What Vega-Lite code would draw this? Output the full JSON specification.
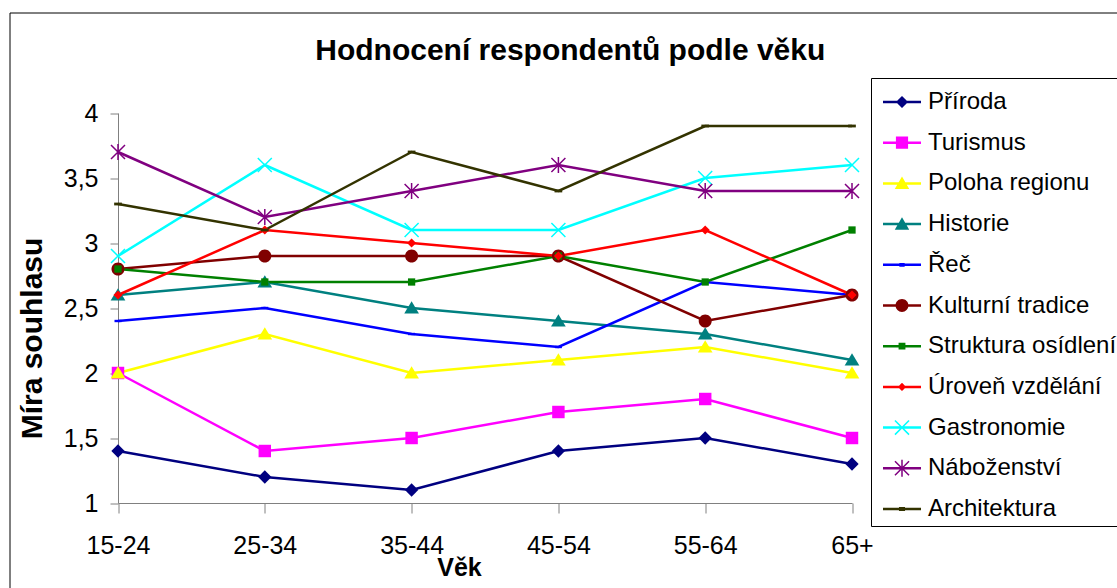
{
  "$schema": "https://vega.github.io/schema/vega-lite/v6.json",
  "width": 1107.5,
  "height": 575.5,
  "autosize": {"type": "none"},
  "padding": {"left": 9.5, "top": 12.5, "right": 0, "bottom": 0},
  "background": "white",
  "config": {
    "font": "Liberation Sans",
    "view": {"stroke": "black", "strokeWidth": 1}
  },
  "title": {
    "text": "Hodnocení respondentů podle věku",
    "font": "Liberation Sans",
    "fontSize": 30,
    "fontWeight": "bold",
    "color": "black",
    "anchor": "middle",
    "frame": "group",
    "baseline": "alphabetic",
    "offset": -77,
    "dx": 7
  },
  "datasets": {
    "ages": [
      {"vek": "15-24"}, {"vek": "25-34"}, {"vek": "35-44"},
      {"vek": "45-54"}, {"vek": "55-64"}, {"vek": "65+"}
    ],
    "main": [
      {"vek": "15-24", "oblast": "Příroda", "hodnota": 1.4},
      {"vek": "25-34", "oblast": "Příroda", "hodnota": 1.2},
      {"vek": "35-44", "oblast": "Příroda", "hodnota": 1.1},
      {"vek": "45-54", "oblast": "Příroda", "hodnota": 1.4},
      {"vek": "55-64", "oblast": "Příroda", "hodnota": 1.5},
      {"vek": "65+", "oblast": "Příroda", "hodnota": 1.3},
      {"vek": "15-24", "oblast": "Turismus", "hodnota": 2.0},
      {"vek": "25-34", "oblast": "Turismus", "hodnota": 1.4},
      {"vek": "35-44", "oblast": "Turismus", "hodnota": 1.5},
      {"vek": "45-54", "oblast": "Turismus", "hodnota": 1.7},
      {"vek": "55-64", "oblast": "Turismus", "hodnota": 1.8},
      {"vek": "65+", "oblast": "Turismus", "hodnota": 1.5},
      {"vek": "15-24", "oblast": "Poloha regionu", "hodnota": 2.0},
      {"vek": "25-34", "oblast": "Poloha regionu", "hodnota": 2.3},
      {"vek": "35-44", "oblast": "Poloha regionu", "hodnota": 2.0},
      {"vek": "45-54", "oblast": "Poloha regionu", "hodnota": 2.1},
      {"vek": "55-64", "oblast": "Poloha regionu", "hodnota": 2.2},
      {"vek": "65+", "oblast": "Poloha regionu", "hodnota": 2.0},
      {"vek": "15-24", "oblast": "Historie", "hodnota": 2.6},
      {"vek": "25-34", "oblast": "Historie", "hodnota": 2.7},
      {"vek": "35-44", "oblast": "Historie", "hodnota": 2.5},
      {"vek": "45-54", "oblast": "Historie", "hodnota": 2.4},
      {"vek": "55-64", "oblast": "Historie", "hodnota": 2.3},
      {"vek": "65+", "oblast": "Historie", "hodnota": 2.1},
      {"vek": "15-24", "oblast": "Řeč", "hodnota": 2.4},
      {"vek": "25-34", "oblast": "Řeč", "hodnota": 2.5},
      {"vek": "35-44", "oblast": "Řeč", "hodnota": 2.3},
      {"vek": "45-54", "oblast": "Řeč", "hodnota": 2.2},
      {"vek": "55-64", "oblast": "Řeč", "hodnota": 2.7},
      {"vek": "65+", "oblast": "Řeč", "hodnota": 2.6},
      {"vek": "15-24", "oblast": "Kulturní tradice", "hodnota": 2.8},
      {"vek": "25-34", "oblast": "Kulturní tradice", "hodnota": 2.9},
      {"vek": "35-44", "oblast": "Kulturní tradice", "hodnota": 2.9},
      {"vek": "45-54", "oblast": "Kulturní tradice", "hodnota": 2.9},
      {"vek": "55-64", "oblast": "Kulturní tradice", "hodnota": 2.4},
      {"vek": "65+", "oblast": "Kulturní tradice", "hodnota": 2.6},
      {"vek": "15-24", "oblast": "Struktura osídlení", "hodnota": 2.8},
      {"vek": "25-34", "oblast": "Struktura osídlení", "hodnota": 2.7},
      {"vek": "35-44", "oblast": "Struktura osídlení", "hodnota": 2.7},
      {"vek": "45-54", "oblast": "Struktura osídlení", "hodnota": 2.9},
      {"vek": "55-64", "oblast": "Struktura osídlení", "hodnota": 2.7},
      {"vek": "65+", "oblast": "Struktura osídlení", "hodnota": 3.1},
      {"vek": "15-24", "oblast": "Úroveň vzdělání", "hodnota": 2.6},
      {"vek": "25-34", "oblast": "Úroveň vzdělání", "hodnota": 3.1},
      {"vek": "35-44", "oblast": "Úroveň vzdělání", "hodnota": 3.0},
      {"vek": "45-54", "oblast": "Úroveň vzdělání", "hodnota": 2.9},
      {"vek": "55-64", "oblast": "Úroveň vzdělání", "hodnota": 3.1},
      {"vek": "65+", "oblast": "Úroveň vzdělání", "hodnota": 2.6},
      {"vek": "15-24", "oblast": "Gastronomie", "hodnota": 2.9},
      {"vek": "25-34", "oblast": "Gastronomie", "hodnota": 3.6},
      {"vek": "35-44", "oblast": "Gastronomie", "hodnota": 3.1},
      {"vek": "45-54", "oblast": "Gastronomie", "hodnota": 3.1},
      {"vek": "55-64", "oblast": "Gastronomie", "hodnota": 3.5},
      {"vek": "65+", "oblast": "Gastronomie", "hodnota": 3.6},
      {"vek": "15-24", "oblast": "Náboženství", "hodnota": 3.7},
      {"vek": "25-34", "oblast": "Náboženství", "hodnota": 3.2},
      {"vek": "35-44", "oblast": "Náboženství", "hodnota": 3.4},
      {"vek": "45-54", "oblast": "Náboženství", "hodnota": 3.6},
      {"vek": "55-64", "oblast": "Náboženství", "hodnota": 3.4},
      {"vek": "65+", "oblast": "Náboženství", "hodnota": 3.4},
      {"vek": "15-24", "oblast": "Architektura", "hodnota": 3.3},
      {"vek": "25-34", "oblast": "Architektura", "hodnota": 3.1},
      {"vek": "35-44", "oblast": "Architektura", "hodnota": 3.7},
      {"vek": "45-54", "oblast": "Architektura", "hodnota": 3.4},
      {"vek": "55-64", "oblast": "Architektura", "hodnota": 3.9},
      {"vek": "65+", "oblast": "Architektura", "hodnota": 3.9}
    ]
  },
  "data": {"name": "main"},
  "encoding": {
    "x": {
      "field": "vek",
      "type": "ordinal",
      "sort": ["15-24", "25-34", "35-44", "45-54", "55-64", "65+"],
      "scale": {
        "type": "point",
        "domain": ["15-24", "25-34", "35-44", "45-54", "55-64", "65+"],
        "range": [108.5, 842.5],
        "padding": 0
      },
      "axis": {
        "orient": "bottom",
        "offset": -85,
        "labelAngle": 0,
        "labelFont": "Liberation Sans",
        "labelFontSize": 25,
        "labelColor": "black",
        "labelPadding": 20,
        "tickSize": 10,
        "tickColor": "#808080",
        "domainColor": "#808080",
        "grid": false,
        "title": "Věk",
        "titleFont": "Liberation Sans",
        "titleFontSize": 25,
        "titleFontWeight": "bold",
        "titleColor": "black",
        "titleX": 449.5,
        "titleY": 72,
        "titleBaseline": "alphabetic",
        "titleAlign": "center"
      }
    },
    "y": {
      "field": "hodnota",
      "type": "quantitative",
      "scale": {"domain": [1, 4], "range": [490.5, 100.5], "zero": false, "nice": false},
      "axis": {
        "orient": "left",
        "offset": -108.5,
        "values": [1, 1.5, 2, 2.5, 3, 3.5, 4],
        "labelExpr": "replace(format(datum.value, '~g'), '.', ',')",
        "labelFont": "Liberation Sans",
        "labelFontSize": 25,
        "labelColor": "black",
        "labelPadding": 12,
        "tickSize": 8,
        "tickColor": "#808080",
        "domainColor": "#808080",
        "grid": false,
        "title": "Míra souhlasu",
        "titleFont": "Liberation Sans",
        "titleFontSize": 30,
        "titleFontWeight": "bold",
        "titleColor": "black",
        "titleX": -86,
        "titleY": 325.5,
        "titleAngle": -90,
        "titleBaseline": "middle",
        "titleAlign": "center"
      }
    }
  },
  "layer": [
    {
      "data": {"name": "ages"},
      "mark": {"type": "rule", "color": "#333333", "strokeWidth": 1, "strokeDash": [8, 5]},
      "encoding": {
        "y": {"datum": 1, "type": "quantitative"},
        "y2": {"datum": 4}
      }
    },
    {
      "mark": {"type": "point", "filled": true, "opacity": 1, "size": 1},
      "encoding": {
        "color": {
          "field": "oblast",
          "type": "nominal",
          "scale": {
            "domain": ["Příroda", "Turismus", "Poloha regionu", "Historie", "Řeč", "Kulturní tradice", "Struktura osídlení", "Úroveň vzdělání", "Gastronomie", "Náboženství", "Architektura"],
            "range": ["#000080", "#FF00FF", "#FFFF00", "#008080", "#0000FF", "#800000", "#008000", "#FF0000", "#00FFFF", "#800080", "#333300"]
          },
          "legend": {
            "title": null, "orient": "none", "legendX": 861.5, "legendY": 65.5,
            "padding": 5, "strokeColor": "black", "fillColor": "white",
            "symbolSize": 1444, "symbolOpacity": 1, "symbolOffset": 7, "symbolStrokeWidth": 0,
            "labelFont": "Liberation Sans", "labelFontSize": 24, "labelColor": "black",
            "labelOffset": 7, "labelLimit": 400, "rowPadding": 9.7
          }
        },
        "shape": {
          "field": "oblast",
          "type": "nominal",
          "scale": {
            "domain": ["Příroda", "Turismus", "Poloha regionu", "Historie", "Řeč", "Kulturní tradice", "Struktura osídlení", "Úroveň vzdělání", "Gastronomie", "Náboženství", "Architektura"],
            "range": [
              "M-1,-0.065H1V0.065H-1ZM0,-0.32L0.32,0L0,0.32L-0.32,0Z",
              "M-1,-0.065H1V0.065H-1ZM-0.32,-0.32H0.32V0.32H-0.32Z",
              "M-1,-0.065H1V0.065H-1ZM0,-0.36L0.38,0.3H-0.38Z",
              "M-1,-0.065H1V0.065H-1ZM0,-0.36L0.38,0.3H-0.38Z",
              "M-1,-0.065H1V0.065H-1ZM-0.14,-0.1H0.14V0.1H-0.14Z",
              "M-1,-0.065H1V0.065H-1ZM0.34,0A0.34,0.34,0,1,1,-0.34,0A0.34,0.34,0,1,1,0.34,0Z",
              "M-1,-0.065H1V0.065H-1ZM-0.18,-0.18H0.18V0.18H-0.18Z",
              "M-1,-0.065H1V0.065H-1ZM0,-0.22L0.22,0L0,0.22L-0.22,0Z",
              "M-1,-0.065H1V0.065H-1ZM-0.342,-0.398L0.398,0.342L0.342,0.398L-0.398,-0.342ZM0.398,-0.342L-0.342,0.398L-0.398,0.342L0.342,-0.398Z",
              "M-1,-0.065H1V0.065H-1ZM-0.342,-0.398L0.398,0.342L0.342,0.398L-0.398,-0.342ZM0.398,-0.342L-0.342,0.398L-0.398,0.342L0.342,-0.398ZM-0.04,-0.45H0.04V0.45H-0.04Z",
              "M-1,-0.065H1V0.065H-1ZM-0.16,-0.11H0.16V0.11H-0.16Z"
            ]
          },
          "legend": {
            "title": null, "orient": "none", "legendX": 861.5, "legendY": 65.5,
            "padding": 5, "strokeColor": "black", "fillColor": "white",
            "symbolSize": 1444, "symbolOpacity": 1, "symbolOffset": 7, "symbolStrokeWidth": 0,
            "labelFont": "Liberation Sans", "labelFontSize": 24, "labelColor": "black",
            "labelOffset": 7, "labelLimit": 400, "rowPadding": 9.7
          }
        }
      }
    },
    {
      "mark": {"type": "line", "strokeWidth": 2.5},
      "encoding": {
        "color": {"field": "oblast", "type": "nominal", "legend": null}
      }
    },
    {
      "transform": [{"filter": "datum.oblast == 'Příroda'"}],
      "mark": {"type": "point", "filled": true, "opacity": 1, "size": 196, "color": "#000080", "shape": "M0,-0.95L0.95,0L0,0.95L-0.95,0Z"}
    },
    {
      "transform": [{"filter": "datum.oblast == 'Turismus'"}],
      "mark": {"type": "point", "filled": true, "opacity": 1, "size": 196, "color": "#FF00FF", "shape": "M-0.89,-0.89H0.89V0.89H-0.89Z"}
    },
    {
      "transform": [{"filter": "datum.oblast == 'Poloha regionu'"}],
      "mark": {"type": "point", "filled": true, "opacity": 1, "size": 196, "color": "#FFFF00", "shape": "M0,-0.95L1.05,0.8H-1.05Z"}
    },
    {
      "transform": [{"filter": "datum.oblast == 'Historie'"}],
      "mark": {"type": "point", "filled": true, "opacity": 1, "size": 196, "color": "#008080", "shape": "M0,-0.95L1.05,0.8H-1.05Z"}
    },
    {
      "transform": [{"filter": "datum.oblast == 'Řeč'"}],
      "mark": {"type": "point", "filled": true, "opacity": 1, "size": 196, "color": "#0000FF", "shape": "M-0.5,-0.17H0.5V0.17H-0.5Z"}
    },
    {
      "transform": [{"filter": "datum.oblast == 'Kulturní tradice'"}],
      "mark": {"type": "point", "filled": true, "opacity": 1, "size": 196, "color": "#800000", "shape": "M0.93,0A0.93,0.93,0,1,1,-0.93,0A0.93,0.93,0,1,1,0.93,0Z"}
    },
    {
      "transform": [{"filter": "datum.oblast == 'Struktura osídlení'"}],
      "mark": {"type": "point", "filled": true, "opacity": 1, "size": 196, "color": "#008000", "shape": "M-0.52,-0.52H0.52V0.52H-0.52Z"}
    },
    {
      "transform": [{"filter": "datum.oblast == 'Úroveň vzdělání'"}],
      "mark": {"type": "point", "filled": true, "opacity": 1, "size": 196, "color": "#FF0000", "shape": "M0,-0.65L0.65,0L0,0.65L-0.65,0Z"}
    },
    {
      "transform": [{"filter": "datum.oblast == 'Gastronomie'"}],
      "mark": {"type": "point", "filled": false, "opacity": 1, "size": 196, "strokeWidth": 1.5, "color": "#00FFFF", "shape": "M-1,-1L1,1M1,-1L-1,1"}
    },
    {
      "transform": [{"filter": "datum.oblast == 'Náboženství'"}],
      "mark": {"type": "point", "filled": false, "opacity": 1, "size": 196, "strokeWidth": 1.5, "color": "#800080", "shape": "M-1,-1L1,1M1,-1L-1,1M0,-1.15V1.15"}
    },
    {
      "transform": [{"filter": "datum.oblast == 'Architektura'"}],
      "mark": {"type": "point", "filled": true, "opacity": 1, "size": 196, "color": "#333300", "shape": "M-0.55,-0.2H0.55V0.2H-0.55Z"}
    }
  ]
}
